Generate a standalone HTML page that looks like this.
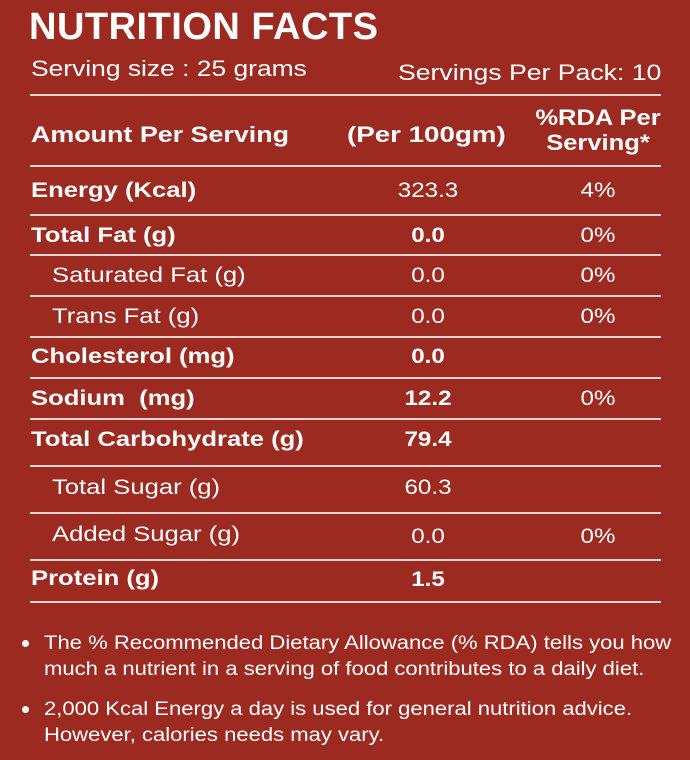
<!DOCTYPE html>
<html><head><style>
body{margin:0;width:690px;height:760px;background:#9d2a21;color:#fff;font-family:"Liberation Sans",sans-serif;position:relative;overflow:hidden}
div{position:absolute;white-space:nowrap}
.l{left:30px;width:631px;height:2px;background:#e9d6d3}
.b{font-weight:bold}
.c{width:120px;text-align:center;transform:scaleX(1.15);transform-origin:center}
.r{font-size:21px}
.s{transform:scaleX(1.22);transform-origin:left}
</style></head><body>
<div class="b" style="left:29px;top:6px;font-size:38px;letter-spacing:0.5px">NUTRITION FACTS</div>
<div class="s" style="left:31px;top:56px;font-size:22px;transform:scaleX(1.2)">Serving size : 25 grams</div>
<div class="s" style="left:398px;top:60px;font-size:22px;transform:scaleX(1.21)">Servings Per Pack: 10</div>
<div class="l" style="top:94px"></div>
<div class="b s" style="left:31px;top:122px;font-size:22px">Amount Per Serving</div>
<div class="b s" style="left:347px;top:122px;font-size:22px;transform:scaleX(1.26)">(Per 100gm)</div>
<div class="b" style="left:528px;top:105px;width:140px;text-align:center;font-size:22px;line-height:25px;transform:scaleX(1.16)">%RDA Per<br>Serving*</div>
<div class="l" style="top:165px"></div>

<div class="r b s" style="left:31px;top:179px">Energy (Kcal)</div><div class="r c" style="left:368px;top:179px">323.3</div><div class="r c" style="left:538px;top:179px">4%</div>
<div class="l" style="top:214px"></div>
<div class="r b s" style="left:31px;top:224px">Total Fat (g)</div><div class="r c b" style="left:368px;top:224px">0.0</div><div class="r c" style="left:538px;top:224px">0%</div>
<div class="l" style="top:254px"></div>
<div class="r s" style="left:52px;top:264px">Saturated Fat (g)</div><div class="r c" style="left:368px;top:264px">0.0</div><div class="r c" style="left:538px;top:264px">0%</div>
<div class="l" style="top:295px"></div>
<div class="r s" style="left:52px;top:305px">Trans Fat (g)</div><div class="r c" style="left:368px;top:305px">0.0</div><div class="r c" style="left:538px;top:305px">0%</div>
<div class="l" style="top:336px"></div>
<div class="r b s" style="left:31px;top:345px">Cholesterol (mg)</div><div class="r c b" style="left:368px;top:345px">0.0</div>
<div class="l" style="top:377px"></div>
<div class="r b s" style="left:31px;top:387px">Sodium&nbsp; (mg)</div><div class="r c b" style="left:368px;top:387px">12.2</div><div class="r c" style="left:538px;top:387px">0%</div>
<div class="l" style="top:418px"></div>
<div class="r b s" style="left:31px;top:428px">Total Carbohydrate (g)</div><div class="r c b" style="left:368px;top:428px">79.4</div>
<div class="l" style="top:465px"></div>
<div class="r s" style="left:52px;top:476px">Total Sugar (g)</div><div class="r c" style="left:368px;top:476px">60.3</div>
<div class="l" style="top:512px"></div>
<div class="r s" style="left:52px;top:523px">Added Sugar (g)</div><div class="r c" style="left:368px;top:525px">0.0</div><div class="r c" style="left:538px;top:525px">0%</div>
<div class="l" style="top:559px"></div>
<div class="r b s" style="left:31px;top:567px">Protein (g)</div><div class="r c b" style="left:368px;top:568px">1.5</div>
<div class="l" style="top:601px"></div>

<div style="left:22px;top:640px;width:7px;height:7px;border-radius:50%;background:#fff"></div>
<div style="left:44px;top:631px;font-size:19px;line-height:26px;transform:scaleX(1.16);transform-origin:left">The % Recommended Dietary Allowance (% RDA) tells you how<br>much a nutrient in a serving of food contributes to a daily diet.</div>
<div style="left:22px;top:706px;width:7px;height:7px;border-radius:50%;background:#fff"></div>
<div style="left:44px;top:697px;font-size:19px;line-height:26px;transform:scaleX(1.16);transform-origin:left">2,000 Kcal Energy a day is used for general nutrition advice.<br>However, calories needs may vary.</div>
</body></html>
